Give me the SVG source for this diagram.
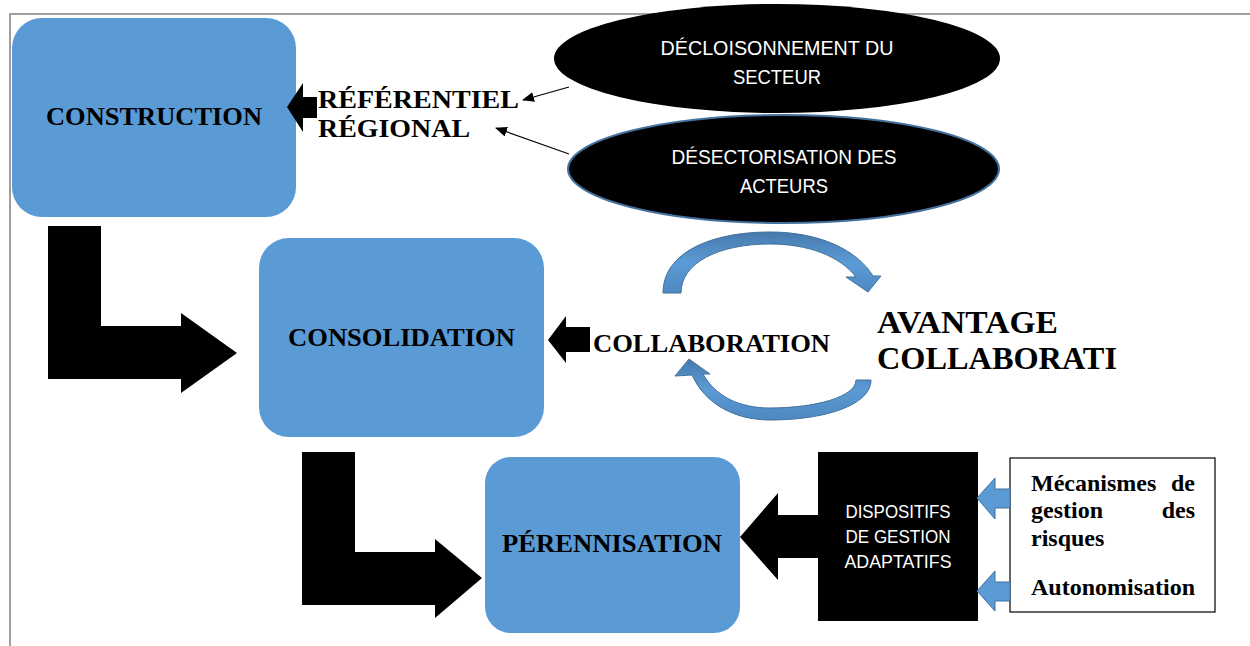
<svg xmlns="http://www.w3.org/2000/svg" width="1250" height="646" viewBox="0 0 1250 646">
<defs>
<style>
.box{fill:#5B9BD5;}
.lbl{font-family:"Liberation Serif","Times New Roman",serif;font-weight:bold;fill:#000;}
.sans{font-family:"Liberation Sans",Arial,sans-serif;fill:#fff;}
.blk{fill:#000;}
.thin{stroke:#000;stroke-width:1.2;fill:none;}
.barrow{fill:#5B9BD5;stroke:#41719C;stroke-width:1;}
</style>
<marker id="ah" viewBox="0 0 12 10" refX="11" refY="5" markerWidth="12" markerHeight="10" markerUnits="userSpaceOnUse" orient="auto">
<path d="M0,0 L12,5 L0,10 Z" fill="#000"/>
</marker>
<linearGradient id="cg" x1="0" y1="0" x2="0" y2="1">
<stop offset="0" stop-color="#4679AD"/>
<stop offset="0.5" stop-color="#5B9BD5"/>
<stop offset="1" stop-color="#4E88C2"/>
</linearGradient>
</defs>
<rect width="1250" height="646" fill="#fff"/>
<g id="frame">
<path d="M10,646 V14 H1250" fill="none" stroke="#808080" stroke-width="1.5"/>
</g>

<g id="construction">
<rect class="box" x="12" y="18" width="284" height="199" rx="30"/>
<text class="lbl" x="154" y="125" font-size="26" text-anchor="middle" textLength="216" lengthAdjust="spacingAndGlyphs">CONSTRUCTION</text>
</g>

<g id="referentiel">
<text class="lbl" x="318" y="108" font-size="26" textLength="201" lengthAdjust="spacingAndGlyphs">RÉFÉRENTIEL</text>
<text class="lbl" x="318" y="137" font-size="26" textLength="152" lengthAdjust="spacingAndGlyphs">RÉGIONAL</text>
</g>

<g id="decloisonnement">
<ellipse cx="777" cy="58.5" rx="223" ry="54.5" fill="#000"/>
<text class="sans" x="777" y="55" font-size="19.5" text-anchor="middle" textLength="233" lengthAdjust="spacingAndGlyphs">DÉCLOISONNEMENT DU</text>
<text class="sans" x="777" y="84" font-size="19.5" text-anchor="middle" textLength="88" lengthAdjust="spacingAndGlyphs">SECTEUR</text>
</g>

<g id="desectorisation">
<ellipse cx="783.5" cy="169" rx="215.5" ry="54" fill="#000" stroke="#41719C" stroke-width="2"/>
<text class="sans" x="784" y="164" font-size="19.5" text-anchor="middle" textLength="225" lengthAdjust="spacingAndGlyphs">DÉSECTORISATION DES</text>
<text class="sans" x="784" y="193" font-size="19.5" text-anchor="middle" textLength="88" lengthAdjust="spacingAndGlyphs">ACTEURS</text>
</g>

<g id="consolidation">
<rect class="box" x="259" y="238" width="285" height="199" rx="30"/>
<text class="lbl" x="401.5" y="346" font-size="26" text-anchor="middle" textLength="227" lengthAdjust="spacingAndGlyphs">CONSOLIDATION</text>
</g>

<g id="collaboration">
<text class="lbl" x="593" y="352" font-size="26" textLength="237" lengthAdjust="spacingAndGlyphs">COLLABORATION</text>
</g>

<g id="avantage">
<text class="lbl" x="877" y="333" font-size="32" textLength="181" lengthAdjust="spacingAndGlyphs">AVANTAGE</text>
<text class="lbl" x="877" y="369" font-size="32" textLength="240" lengthAdjust="spacingAndGlyphs">COLLABORATI</text>
</g>

<g id="perennisation">
<rect class="box" x="485" y="457" width="255" height="176" rx="26"/>
<text class="lbl" x="612" y="552" font-size="26" text-anchor="middle" textLength="220" lengthAdjust="spacingAndGlyphs">PÉRENNISATION</text>
</g>

<g id="dispositifs">
<rect x="818" y="452" width="160" height="169" fill="#000"/>
<text class="sans" x="898" y="518" font-size="18" text-anchor="middle" textLength="105" lengthAdjust="spacingAndGlyphs">DISPOSITIFS</text>
<text class="sans" x="898" y="543" font-size="18" text-anchor="middle" textLength="105" lengthAdjust="spacingAndGlyphs">DE GESTION</text>
<text class="sans" x="898" y="568" font-size="18" text-anchor="middle" textLength="107" lengthAdjust="spacingAndGlyphs">ADAPTATIFS</text>
</g>

<g id="mecanismes">
<rect x="1010" y="458" width="205" height="154" fill="#fff" stroke="#000" stroke-width="1.2"/>
<text class="lbl" x="1031" y="491" font-size="24">Mécanismes</text>
<text class="lbl" x="1195" y="491" font-size="24" text-anchor="end">de</text>
<text class="lbl" x="1031" y="518" font-size="24">gestion</text>
<text class="lbl" x="1195" y="518" font-size="24" text-anchor="end">des</text>
<text class="lbl" x="1031" y="546" font-size="24">risques</text>
<text class="lbl" x="1031" y="595" font-size="24" textLength="164" lengthAdjust="spacingAndGlyphs">Autonomisation</text>
</g>

<g id="connectors">
<path class="blk" d="M287,107 L303,83 L303,97 L317,97 L317,118 L303,118 L303,132 Z"/>
<line class="thin" x1="569" y1="87" x2="523" y2="100" marker-end="url(#ah)"/>
<line class="thin" x1="569" y1="154" x2="496" y2="128" marker-end="url(#ah)"/>
<path class="blk" d="M48,226 L101,226 L101,326 L181,326 L181,313 L237,353 L181,393 L181,379 L48,379 Z"/>
<path class="blk" d="M548,340 L566,316 L566,327 L590,327 L590,352 L566,352 L566,363 Z"/>
<path fill="url(#cg)" stroke="#41719C" stroke-width="1" d="M663,293 C663,252 712,232 770,232 C820,232 857,250 873,276 L881,276 L868,292 L846,277 L856,277 C840,256 808,244 770,244 C720,244 681,262 681,293 Z"/>
<path fill="url(#cg)" stroke="#41719C" stroke-width="1" d="M871,380 C871,405 825,420 770,420 C735,420 705,404 692,375 L675,376 L689,359 L710,374 L703,374 C716,397 740,408 770,408 C815,408 856,397 856,380 Z"/>
<path class="blk" d="M302,452 L355,452 L355,552 L435,552 L435,539 L482,578 L435,618 L435,605 L302,605 Z"/>
<path class="blk" d="M740,537 L778,493 L778,515 L818,515 L818,558 L778,558 L778,580 Z"/>
<path class="barrow" d="M977,498 L995,478 L995,489 L1010,489 L1010,508 L995,508 L995,519 Z"/>
<path class="barrow" d="M977,591 L995,571 L995,582 L1010,582 L1010,601 L995,601 L995,611 Z"/>
</g>
</svg>
